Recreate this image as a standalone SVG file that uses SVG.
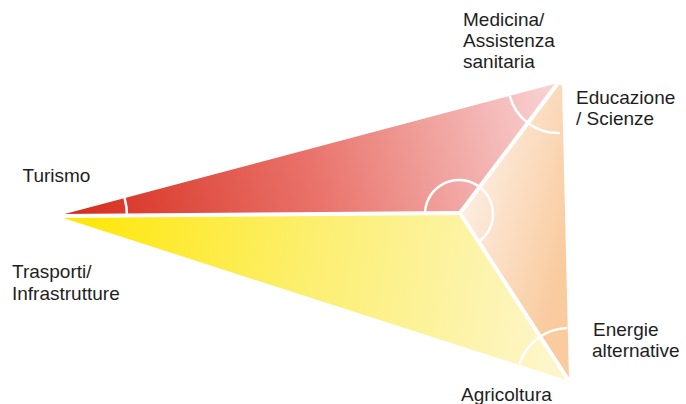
<svg xmlns="http://www.w3.org/2000/svg" width="686" height="404" viewBox="0 0 686 404">
  <defs>
    <linearGradient id="gRed" gradientUnits="userSpaceOnUse" x1="57" y1="216" x2="557" y2="100">
      <stop offset="0" stop-color="#d42818"/>
      <stop offset="0.5" stop-color="#e9726a"/>
      <stop offset="1" stop-color="#f8d3d3"/>
    </linearGradient>
    <linearGradient id="gYellow" gradientUnits="userSpaceOnUse" x1="57" y1="216" x2="569" y2="300">
      <stop offset="0" stop-color="#ffe600"/>
      <stop offset="0.5" stop-color="#fcef70"/>
      <stop offset="1" stop-color="#fdf6cc"/>
    </linearGradient>
    <linearGradient id="gOrange" gradientUnits="userSpaceOnUse" x1="462" y1="213" x2="569" y2="240">
      <stop offset="0" stop-color="#fdede0"/>
      <stop offset="1" stop-color="#f9cb9e"/>
    </linearGradient>
  </defs>
  <style>
    .sep { stroke: #ffffff; stroke-width: 4; stroke-linecap: round; fill: none; }
    .arc { stroke: #ffffff; stroke-width: 2.5; fill: none; }
    .lbl { font-family: "Liberation Sans", Arial, sans-serif; font-size: 19px; fill: #1e1e1e; }
  </style>

  <g id="faces">
    <polygon id="face-red" points="57,216 558,83 460,213" fill="url(#gRed)"/>
    <polygon id="face-yellow" points="57,216 460,213 569,381" fill="url(#gYellow)"/>
    <polygon id="face-orange" points="558,83 562,86 569,381 460,213" fill="url(#gOrange)"/>
  </g>

  <g id="arcs">
    <path class="arc" d="M127,215.5 A70,70 0 0 0 124.6,198"/>
    <path class="arc" d="M425,214 A34,34 0 1 1 477.7,242.4"/>
    <path class="arc" d="M509.7,95.9 A50,50 0 0 0 559.8,133"/>
    <path class="arc" d="M567.3,328 A52,52 0 0 0 519.5,364.2"/>
  </g>

  <g id="connectors">
    <line class="sep" x1="57" y1="216" x2="460" y2="213" stroke-width="3"/>
    <line class="sep" x1="460" y1="213" x2="558" y2="83"/>
    <line class="sep" x1="460" y1="213" x2="569" y2="381"/>
  </g>

  <g id="node-medicina">
    <text class="lbl" x="463" y="26">Medicina/</text>
    <text class="lbl" x="463" y="47">Assistenza</text>
    <text class="lbl" x="463" y="68">sanitaria</text>
  </g>
  <g id="node-educazione">
    <text class="lbl" x="576" y="104">Educazione</text>
    <text class="lbl" x="576" y="125">/ Scienze</text>
  </g>
  <g id="node-turismo">
    <text class="lbl" x="22.5" y="181.5">Turismo</text>
  </g>
  <g id="node-trasporti">
    <text class="lbl" x="12" y="278">Trasporti/</text>
    <text class="lbl" x="12" y="300">Infrastrutture</text>
  </g>
  <g id="node-energie">
    <text class="lbl" x="593" y="336">Energie</text>
    <text class="lbl" x="592" y="357">alternative</text>
  </g>
  <g id="node-agricoltura">
    <text class="lbl" x="461" y="401">Agricoltura</text>
  </g>
</svg>
